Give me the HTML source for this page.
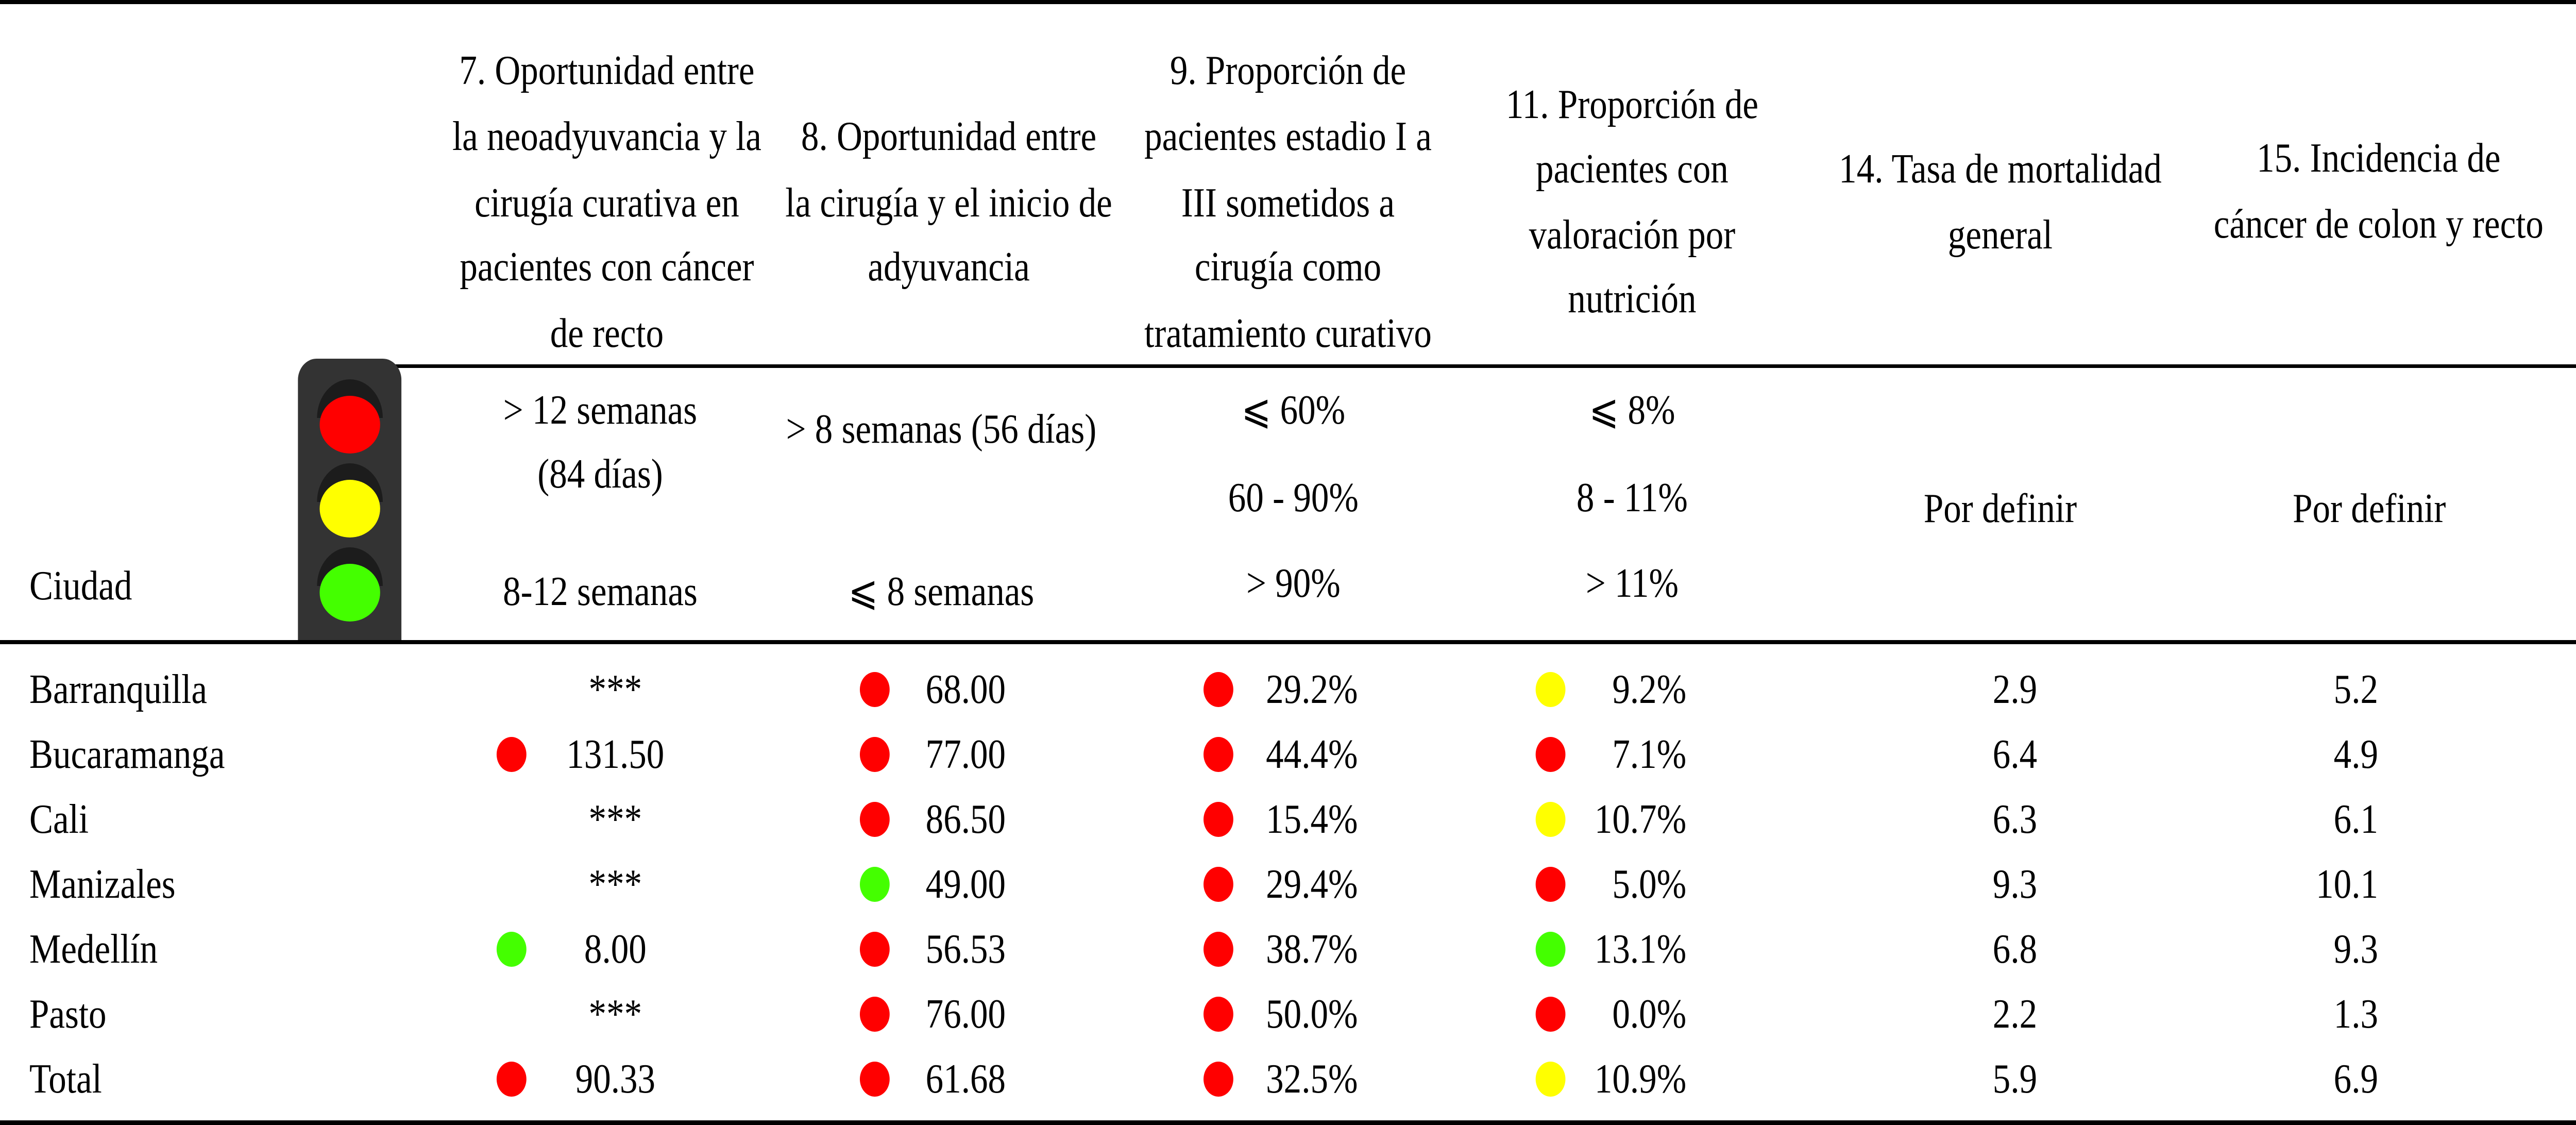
<!DOCTYPE html>
<html><head><meta charset="utf-8">
<style>
html,body{margin:0;padding:0;background:#fff;overflow:hidden;}
#root{position:absolute;left:0;top:0;width:5794px;height:2183px;overflow:hidden;font-family:"Liberation Serif",serif;font-size:80px;color:#000;transform-origin:0 0;background:#fff;}
.t{position:absolute;white-space:nowrap;line-height:80px;height:80px;}
.rule{position:absolute;background:#000;}
.dot{position:absolute;width:67px;height:68px;border-radius:50%;}
</style></head>
<body>
<div id="root">
  <div class="rule" style="left:0;top:0;width:5794px;height:8px;"></div>
  <div class="rule" style="left:887px;top:707px;width:4907px;height:7px;"></div>
  <div class="rule" style="left:0;top:1242px;width:5794px;height:8px;"></div>
  <div class="rule" style="left:0;top:2174px;width:5794px;height:9px;"></div>

  <svg style="position:absolute;left:600px;top:680px;" width="400" height="600" viewBox="600 680 400 600">
    <defs>
      <clipPath id="boxclip"><rect x="670" y="696" width="233" height="546"/></clipPath>
    </defs>
    <g clip-path="url(#boxclip)">
      <rect x="670" y="696" width="233" height="590" rx="42" fill="#333333"/>
    </g>
    <g>
      <path d="M713,811 A74,75 0 0 1 861,811 Z" fill="#1c1c1c"/>
      <ellipse cx="787" cy="824" rx="68" ry="56" fill="#ff0000"/>
    </g>
    <g>
      <path d="M713,974 A74,75 0 0 1 861,974 Z" fill="#1c1c1c"/>
      <ellipse cx="787" cy="987" rx="68" ry="56" fill="#ffff00"/>
    </g>
    <g>
      <path d="M713,1137 A74,75 0 0 1 861,1137 Z" fill="#1c1c1c"/>
      <ellipse cx="787" cy="1150" rx="68" ry="56" fill="#44ff00"/>
    </g>
  </svg>

  <div class="t" style="left:66px;top:1097px;">Ciudad</div>
</div>
<script>
var cities = ["Barranquilla","Bucaramanga","Cali","Manizales","Medellín","Pasto","Total"];
var col7Values = ["***","131.50","***","***","8.00","***","90.33"];
var col7Status = ["","r","","","g","","r"];
var col8Values = ["68.00","77.00","86.50","49.00","56.53","76.00","61.68"];
var col8Status = ["r","r","r","g","r","r","r"];
var col9Values = ["29.2%","44.4%","15.4%","29.4%","38.7%","50.0%","32.5%"];
var col9Status = ["r","r","r","r","r","r","r"];
var col11Values = ["9.2%","7.1%","10.7%","5.0%","13.1%","0.0%","10.9%"];
var col11Status = ["y","r","y","r","g","r","y"];
var col14Values = ["2.9","6.4","6.3","9.3","6.8","2.2","5.9"];
var col15Values = ["5.2","4.9","6.1","10.1","9.3","1.3","6.9"];

var headers = [
  {name:"header-7", x:1365, y:[137,265,394,518,647], lines:["7. Oportunidad entre","la neoadyuvancia y la","cirugía curativa en","pacientes con cáncer","de recto"]},
  {name:"header-8", x:2134, y:[265,394,518], lines:["8. Oportunidad entre","la cirugía y el inicio de","adyuvancia"]},
  {name:"header-9", x:2897, y:[137,265,394,518,647], lines:["9. Proporción de","pacientes  estadio I a","III sometidos a","cirugía como","tratamiento curativo"]},
  {name:"header-11", x:3671, y:[203,328,456,580], lines:["11. Proporción de","pacientes con","valoración por","nutrición"]},
  {name:"header-14", x:4499, y:[328,456], lines:["14. Tasa de mortalidad","general"]},
  {name:"header-15", x:5350, y:[307,435], lines:["15. Incidencia de","cáncer de colon y recto"]}
];
var thresholds = [
  {name:"threshold-7", x:1350, y:[796,920,1148], lines:["> 12 semanas","(84 días)","8-12 semanas"]},
  {name:"threshold-8", x:2117, y:[833,1148], lines:["> 8 semanas (56 días)","⩽ 8 semanas"]},
  {name:"threshold-9", x:2909, y:[796,966,1132], lines:["⩽ 60%","60 - 90%","> 90%"]},
  {name:"threshold-11", x:3671, y:[796,966,1132], lines:["⩽ 8%","8 - 11%","> 11%"]},
  {name:"threshold-14", x:4499, y:[987], lines:["Por definir"]},
  {name:"threshold-15", x:5329, y:[987], lines:["Por definir"]}
];

var root = document.getElementById('root');
var colors = {r:"#ff0000", y:"#ffff00", g:"#44ff00"};
var W = 5794, H = 2183;
var ROW0 = 1338, ROWH = 126;
function rowY(i){ return ROW0 + i*ROWH; }

function addText(txt, x, cy, align, name){
  var d = document.createElement('div');
  d.className = 't';
  var left, width;
  if(align === 'c'){
    var half = Math.min(600, W - x, x);
    left = x - half; width = 2*half;
    d.style.textAlign = 'center';
  } else if(align === 'r'){
    left = x - 600; width = 600;
    d.style.textAlign = 'right';
  } else {
    left = x; width = 800;
    d.style.textAlign = 'left';
  }
  d.style.left = left + 'px';
  d.style.width = width + 'px';
  d.style.top = (cy - 40) + 'px';
  d.textContent = txt;
  
  
  root.appendChild(d);
}
function addDot(status, x, cy, name){
  if(!status) return;
  var d = document.createElement('div');
  d.className = 'dot';
  d.style.left = (x - 33) + 'px';
  d.style.top = (cy - 34) + 'px';
  d.style.background = colors[status];
  
  
  root.appendChild(d);
}

headers.forEach(function(h){
  h.lines.forEach(function(l, k){ addText(l, h.x, h.y[k], 'c', h.name + '-line'); });
});
thresholds.forEach(function(h){
  h.lines.forEach(function(l, k){ addText(l, h.x, h.y[k], 'c', h.name + '-label'); });
});

cities.forEach(function(city, i){
  var y = rowY(i);
  addText(city, 66, y, 'l', 'city-label');
  addDot(col7Status[i], 1150, y, 'status-dot-7');
  addText(col7Values[i], 1384, y, 'c', 'value-7');
  addDot(col8Status[i], 1967, y, 'status-dot-8');
  addText(col8Values[i], 2262, y, 'r', 'value-8');
  addDot(col9Status[i], 2740, y, 'status-dot-9');
  addText(col9Values[i], 3054, y, 'r', 'value-9');
  addDot(col11Status[i], 3487, y, 'status-dot-11');
  addText(col11Values[i], 3793, y, 'r', 'value-11');
  addText(col14Values[i], 4582, y, 'r', 'value-14');
  addText(col15Values[i], 5349, y, 'r', 'value-15');
});

function fit(){
  var vw = window.innerWidth || W, vh = window.innerHeight || H;
  var sx = vw < W ? vw / W : 1;
  var sy = vh < H ? vh / H : 1;
  root.style.transform = (sx !== 1 || sy !== 1) ? 'scale(' + sx + ',' + sy + ')' : 'none';
}
fit();
window.addEventListener('resize', fit);
</script>
</body></html>
